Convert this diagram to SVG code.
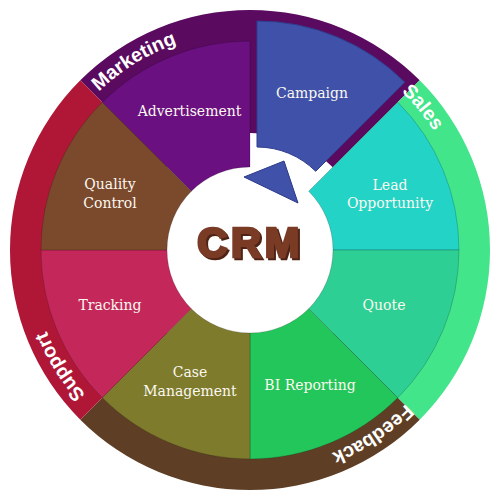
<svg xmlns="http://www.w3.org/2000/svg" xmlns:xlink="http://www.w3.org/1999/xlink" width="500" height="500" viewBox="0 0 500 500">
<style>
.seg{stroke:rgba(0,0,0,0.18);stroke-width:1}
.lbl{font-family:"DejaVu Serif","Liberation Serif",serif;font-size:14px;fill:#fbf8f0;text-anchor:middle}
.band{font-family:"Liberation Sans",Arial,sans-serif;font-weight:bold;font-size:19.5px;fill:#ffffff}
.crm{font-family:"Liberation Sans",Arial,sans-serif;font-weight:bold;font-size:42px;text-anchor:middle;letter-spacing:3.5px}
</style>
<defs>
<path id="ring" d="M250,469 A219,219 0 0 1 250,31 A219,219 0 0 1 250,469"/>
<filter id="shadow" x="-10%" y="-10%" width="130%" height="140%">
<feOffset in="SourceAlpha" dx="2" dy="2" result="off"/>
<feFlood flood-color="#4f2415" result="col"/>
<feComposite in="col" in2="off" operator="in" result="sh"/>
<feMerge><feMergeNode in="sh"/><feMergeNode in="SourceGraphic"/></feMerge>
</filter>
</defs>
<rect width="500" height="500" fill="#ffffff"/>
<g id="bands">
<path id="band-marketing" d="M80.29,80.29 A240,240 0 0 1 419.71,80.29 L332.73,167.27 A117,117 0 0 0 167.27,167.27 Z" fill="#5a0b5f"/>
<path id="band-sales" d="M419.71,80.29 A240,240 0 0 1 419.71,419.71 L332.73,332.73 A117,117 0 0 0 332.73,167.27 Z" fill="#42e58a"/>
<path id="band-feedback" d="M419.71,419.71 A240,240 0 0 1 80.29,419.71 L167.27,332.73 A117,117 0 0 0 332.73,332.73 Z" fill="#5e3f26"/>
<path id="band-support" d="M80.29,419.71 A240,240 0 0 1 80.29,80.29 L167.27,167.27 A117,117 0 0 0 167.27,332.73 Z" fill="#b01737"/>
</g>
<g id="band-labels">
<text class="band"><textPath xlink:href="#ring" startOffset="521">Marketing</textPath></text>
<text class="band"><textPath xlink:href="#ring" startOffset="855">Sales</textPath></text>
<text class="band"><textPath xlink:href="#ring" startOffset="1202">Feedback</textPath></text>
<text class="band"><textPath xlink:href="#ring" startOffset="186">Support</textPath></text>
</g>
<g id="advertisement">
<path class="seg" d="M102.21,102.21 A209,209 0 0 1 250,41 L250,167 A83,83 0 0 0 191.31,191.31 Z" fill="#6a1080"/>
<text class="lbl" x="189.5" y="116">Advertisement</text>
</g>
<g id="campaign" transform="translate(7,-20)">
<path d="M250,41 A209,209 0 0 1 397.79,102.21 L308.69,191.31 A83,83 0 0 0 250,167 Z" fill="#3f51a8" stroke="#2f3d8f" stroke-width="1"/>
<text class="lbl" x="305" y="118">Campaign</text>
</g>
<g id="lead-opportunity">
<path class="seg" d="M397.79,102.21 A209,209 0 0 1 459,250 L333,250 A83,83 0 0 0 308.69,191.31 Z" fill="#23d3c6"/>
<text class="lbl" x="390" y="190">Lead</text>
<text class="lbl" x="390" y="208">Opportunity</text>
</g>
<g id="quote">
<path class="seg" d="M459,250 A209,209 0 0 1 397.79,397.79 L308.69,308.69 A83,83 0 0 0 333,250 Z" fill="#2ecf94"/>
<text class="lbl" x="384" y="310">Quote</text>
</g>
<g id="bi-reporting">
<path class="seg" d="M397.79,397.79 A209,209 0 0 1 250,459 L250,333 A83,83 0 0 0 308.69,308.69 Z" fill="#23c65a"/>
<text class="lbl" x="310" y="390">BI Reporting</text>
</g>
<g id="case-management">
<path class="seg" d="M250,459 A209,209 0 0 1 102.21,397.79 L191.31,308.69 A83,83 0 0 0 250,333 Z" fill="#7e7b2d"/>
<text class="lbl" x="190" y="377">Case</text>
<text class="lbl" x="190" y="396">Management</text>
</g>
<g id="tracking">
<path class="seg" d="M102.21,397.79 A209,209 0 0 1 41,250 L167,250 A83,83 0 0 0 191.31,308.69 Z" fill="#c4285a"/>
<text class="lbl" x="110" y="310">Tracking</text>
</g>
<g id="quality-control">
<path class="seg" d="M41,250 A209,209 0 0 1 102.21,102.21 L191.31,191.31 A83,83 0 0 0 167,250 Z" fill="#7b4a2d"/>
<text class="lbl" x="110" y="189">Quality</text>
<text class="lbl" x="110" y="208">Control</text>
</g>
<g id="connectors">
<polygon points="244,177 284,161 298,203" fill="#3f51a8" stroke="#2b3a8a" stroke-width="1"/>
</g>
<g id="crm">
<text class="crm" x="250" y="257" fill="#7a3b25" stroke="#7a3b25" stroke-width="2.5" filter="url(#shadow)">CRM</text>
</g>
</svg>
